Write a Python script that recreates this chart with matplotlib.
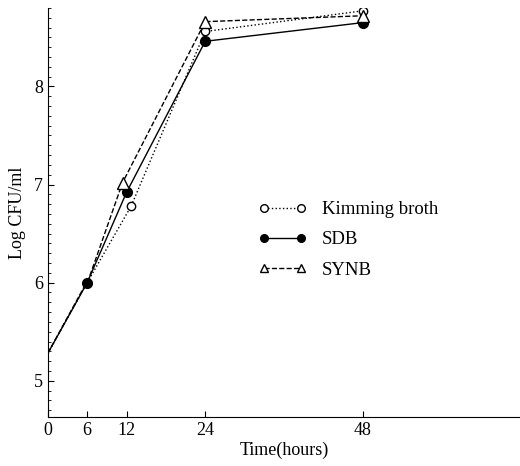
import matplotlib
matplotlib.use('Agg')
from matplotlib import pyplot as plt
from matplotlib.ticker import MultipleLocator

plt.rcParams['font.family'] = ['Liberation Serif', 'DejaVu Serif']

# Data (times slightly shifted as drawn in the original)
kimming_t = [0, 6, 12.7, 24, 48]
kimming_y = [5.28, 6.0, 6.78, 8.56, 8.77]
sdb_t = [0, 6, 12, 24, 48]
sdb_y = [5.28, 6.0, 6.92, 8.46, 8.65]
synb_t = [0, 6.3, 11.4, 24, 48]
synb_y = [5.28, 6.05, 7.02, 8.66, 8.72]

x_ticks = [0, 6, 12, 24, 48]
y_ticks = [5, 6, 7, 8]

fig = plt.figure(figsize=(5.2, 4.66), dpi=100)
ax = fig.add_axes([0.092, 0.105, 0.908, 0.878])

ax.plot(kimming_t, kimming_y, color='black', linestyle=':', linewidth=1,
        marker='o', markerfacecolor='white', markersize=6, markevery=[1, 2, 3, 4],
        label='Kimming broth')
ax.plot(sdb_t, sdb_y, color='black', linestyle='-', linewidth=1,
        marker='o', markerfacecolor='black', markersize=7, markevery=[1, 2, 3, 4],
        label='SDB')
ax.plot(synb_t, synb_y, color='black', linestyle='--', linewidth=1,
        marker='^', markerfacecolor='white', markersize=8, markevery=[2, 3, 4],
        label='SYNB')

ax.set_xlim(0, 72)
ax.set_ylim(4.63, 8.8)
ax.set_xticks(x_ticks)
ax.set_yticks(y_ticks)
ax.yaxis.set_minor_locator(MultipleLocator(0.1))
ax.tick_params(axis='both', direction='in', labelsize=13, length=4)
ax.tick_params(axis='y', which='minor', direction='in', length=2)
for s in ['top', 'right']:
    ax.spines[s].set_visible(False)

ax.set_xlabel('Time(hours)', fontsize=13, labelpad=2)
ax.set_ylabel('Log CFU/ml', fontsize=13, labelpad=6)

leg = ax.legend(loc='center left', bbox_to_anchor=(0.445, 0.433), frameon=False,
                fontsize=13.5, numpoints=2, handlelength=2.6, labelspacing=0.7,
                handletextpad=0.8, borderpad=0, borderaxespad=0)
for h in leg.legend_handles:
    h.set_markersize(5.5)

fig.savefig('out.png', dpi=100)
